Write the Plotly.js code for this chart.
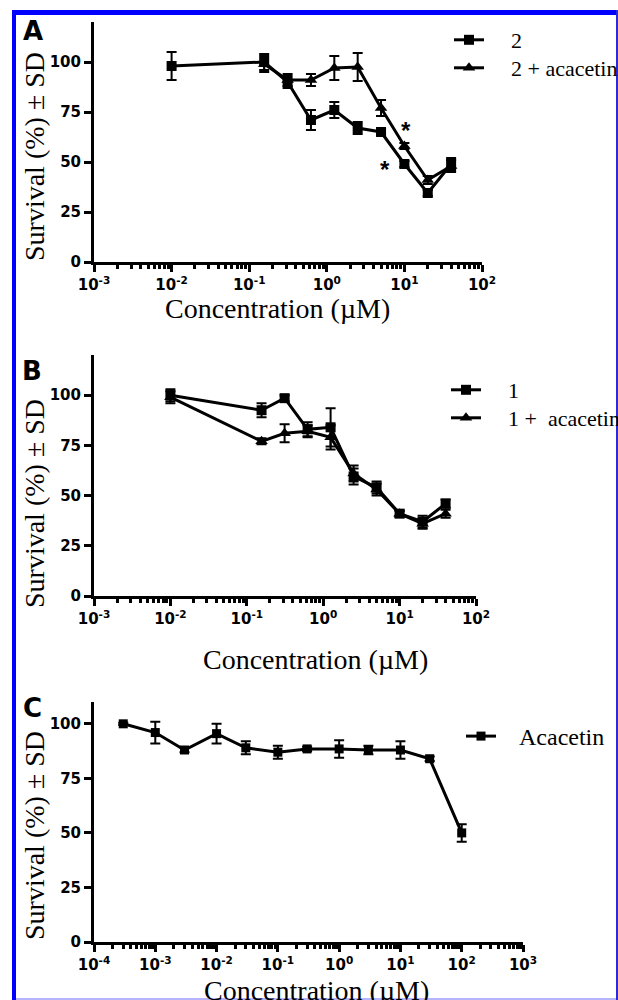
<!DOCTYPE html>
<html>
<head>
<meta charset="utf-8">
<script src="https://cdn.plot.ly/plotly-3.0.1.min.js"></script>
<style>
  html, body { margin: 0; padding: 0; background: #fff; }
  #chart { width: 618px; height: 1000px; }
</style>
</head>
<body>
<div id="chart"></div>
<script>
// ---------- Data ----------
// Panel A
const xA = [0.01, 0.156, 0.3125, 0.625, 1.25, 2.5, 5, 10, 20, 40];
const yA_2 = [98, 100, 90, 71, 76, 67, 65, 49, 34.5, 49];
const sdA_2 = [7, 4, 3, 5, 4, 3, 1.5, 1.5, 1.5, 3];
const xA_ac = [0.156, 0.3125, 0.625, 1.25, 2.5, 5, 10, 20, 40];
const yA_ac = [99, 91, 91, 97, 97.5, 77, 58, 41, 48];
const sdA_ac = [4, 3, 3, 6, 7, 4, 1.5, 2, 3];
const starX = [10.5, 5.7];
const starY = [67.5, 48];

// Panel B
const xB = [0.01, 0.156, 0.3125, 0.625, 1.25, 2.5, 5, 10, 20, 40];
const yB_1 = [100, 92.5, 98.5, 83, 84, 59.5, 54, 41, 37, 46];
const sdB_1 = [3, 3.5, 1.5, 3.5, 9.5, 4, 3, 1.5, 3, 2];
const yB_ac = [99, 77, 81, 82, 79, 61, 53, 41, 36, 41];
const sdB_ac = [3, 1.5, 4.5, 3, 6, 4, 3, 1.5, 2.5, 2];

// Panel C
const xC = [0.0003, 0.001, 0.003, 0.01, 0.03, 0.1, 0.3, 1, 3, 10, 30, 100];
const yC = [100, 96, 88, 95.5, 89, 87, 88.5, 88.5, 88, 88, 84, 50];
const sdC = [0.5, 5, 1, 4.5, 3, 3, 1, 4, 2, 4, 1, 4];

// Labels
const namesA = ['2', '2 + acacetin'];
const namesB = ['1', '1 +\u00a0\u00a0acacetin'];
const namesC = ['Acacetin'];
const yTickVals = [0, 25, 50, 75, 100];
const xTickValsAB = [0.001, 0.01, 0.1, 1, 10, 100];
const xTickTextAB = ['10<sup>-3</sup>', '10<sup>-2</sup>', '10<sup>-1</sup>', '10<sup>0</sup>', '10<sup>1</sup>', '10<sup>2</sup>'];
const xTickValsC = [0.0001, 0.001, 0.01, 0.1, 1, 10, 100, 1000];
const xTickTextC = ['10<sup>-4</sup>', '10<sup>-3</sup>', '10<sup>-2</sup>', '10<sup>-1</sup>', '10<sup>0</sup>', '10<sup>1</sup>', '10<sup>2</sup>', '10<sup>3</sup>'];
const xTitle = 'Concentration (\u00b5M)';
const yTitle = 'Survival (%) \u00b1 SD';
const panelLabels = ['A', 'B', 'C'];

// ---------- Styles ----------
const W = 618, H = 1000;
const px = v => v / W;
const py = v => 1 - v / H;
const pad = '\u00a0\u00a0\u00a0\u00a0';

function errY(arr) {
  return { type: 'data', array: arr, visible: true, color: '#000', thickness: 2, width: 5 };
}
const sq = { symbol: 'square', size: 10, color: '#000' };
const tri = { symbol: 'triangle-up', size: 11, color: '#000' };
const ln = { color: '#000', width: 3 };

const traces = [
  { x: xA, y: yA_2, error_y: errY(sdA_2), mode: 'lines+markers', marker: sq, line: ln,
    name: pad + namesA[0], xaxis: 'x', yaxis: 'y', legend: 'legend' },
  { x: xA_ac, y: yA_ac, error_y: errY(sdA_ac), mode: 'lines+markers', marker: tri, line: ln,
    name: pad + namesA[1], xaxis: 'x', yaxis: 'y', legend: 'legend2' },
  { x: xB, y: yB_1, error_y: errY(sdB_1), mode: 'lines+markers', marker: sq, line: ln,
    name: pad + namesB[0], xaxis: 'x2', yaxis: 'y2', legend: 'legend3' },
  { x: xB, y: yB_ac, error_y: errY(sdB_ac), mode: 'lines+markers', marker: tri, line: ln,
    name: pad + namesB[1], xaxis: 'x2', yaxis: 'y2', legend: 'legend4' },
  { x: xC, y: yC, error_y: errY(sdC), mode: 'lines+markers', marker: { symbol: 'square', size: 9, color: '#000' }, line: ln,
    name: '\u00a0\u00a0\u00a0' + namesC[0], xaxis: 'x3', yaxis: 'y3', legend: 'legend5' }
];

const tickFont = { family: 'DejaVu Sans', size: 15, color: '#000', weight: 'bold' };
function xAx(dom, rng, tv, tt, anchor) {
  return {
    type: 'log', domain: dom, range: rng, anchor: anchor,
    showline: true, linecolor: '#000', linewidth: 3,
    ticks: 'outside', ticklen: 7, tickwidth: 3, tickcolor: '#000',
    tickvals: tv, ticktext: tt, tickfont: tickFont,
    showgrid: false, zeroline: false, fixedrange: true,
    minor: { ticks: 'outside', ticklen: 4, tickwidth: 3, tickcolor: '#000', dtick: 'D1', showgrid: false }
  };
}
function yAx(dom, rng, anchor) {
  return {
    domain: dom, range: rng, anchor: anchor,
    showline: true, linecolor: '#000', linewidth: 3,
    ticks: 'outside', ticklen: 7, tickwidth: 3, tickcolor: '#000',
    tickvals: yTickVals, tickfont: tickFont,
    showgrid: false, zeroline: false, fixedrange: true
  };
}
function leg(x, y, size) {
  return {
    x: x, y: y, xref: 'paper', yref: 'paper', xanchor: 'left', yanchor: 'top',
    bgcolor: 'rgba(0,0,0,0)', borderwidth: 0, tracegroupgap: 0, itemwidth: 30,
    font: { family: 'Liberation Serif', size: size, color: '#000' }
  };
}

const titleFont = { family: 'Liberation Serif', size: 28, color: '#000' };
const labelFont = { family: 'DejaVu Sans', size: 26, color: '#000' };
const annotations = [];
const xTitlePos = [[277, 308], [315, 659], [316, 990]];
const yTitlePos = [[34, 157], [34, 504], [34, 836]];
const labelPos = [[33, 31], [32, 371], [32, 708]];
for (let i = 0; i < 3; i++) {
  annotations.push({ text: xTitle, xref: 'paper', yref: 'paper', x: px(xTitlePos[i][0]), y: py(xTitlePos[i][1]),
    xanchor: 'center', yanchor: 'middle', showarrow: false, font: titleFont });
  annotations.push({ text: yTitle, xref: 'paper', yref: 'paper', x: px(yTitlePos[i][0]), y: py(yTitlePos[i][1]),
    xanchor: 'center', yanchor: 'middle', textangle: -90, showarrow: false, font: titleFont });
  annotations.push({ text: '<b>' + panelLabels[i] + '</b>', xref: 'paper', yref: 'paper', x: px(labelPos[i][0]), y: py(labelPos[i][1]),
    xanchor: 'center', yanchor: 'middle', showarrow: false, font: labelFont });
}
for (let i = 0; i < starX.length; i++) {
  annotations.push({ text: '<b>*</b>', xref: 'x', yref: 'y', x: Math.log10(starX[i]), y: starY[i],
    xanchor: 'center', yanchor: 'middle', showarrow: false, yshift: -3,
    font: { family: 'Liberation Sans', size: 24, color: '#000' } });
}

const blue = '#0000ff';
const shapes = [
  { type: 'rect', xref: 'paper', yref: 'paper', x0: px(12), x1: 1, y0: py(15), y1: py(10), fillcolor: blue, line: { width: 0 }, layer: 'above' },
  { type: 'rect', xref: 'paper', yref: 'paper', x0: px(12), x1: px(16), y0: 0, y1: py(10), fillcolor: blue, line: { width: 0 }, layer: 'above' },
  { type: 'rect', xref: 'paper', yref: 'paper', x0: px(616), x1: 1, y0: 0, y1: py(10), fillcolor: '#2a2ad6', line: { width: 0 }, layer: 'above' },
  { type: 'rect', xref: 'paper', yref: 'paper', x0: px(16), x1: px(616), y0: 0, y1: py(998), fillcolor: '#b4b4ff', line: { width: 0 }, layer: 'above' }
];

const layout = {
  width: W, height: H,
  margin: { l: 0, r: 0, t: 0, b: 0, autoexpand: false },
  paper_bgcolor: '#fff', plot_bgcolor: 'rgba(0,0,0,0)',
  font: { family: 'Liberation Serif', color: '#000' },
  showlegend: true,
  xaxis: xAx([px(94), px(482)], [-3, 2], xTickValsAB, xTickTextAB, 'y'),
  yaxis: yAx([py(262), py(22)], [0, 120], 'x'),
  xaxis2: xAx([px(94), px(476)], [-3, 2], xTickValsAB, xTickTextAB, 'y2'),
  yaxis2: yAx([py(596), py(355)], [0, 120], 'x2'),
  xaxis3: xAx([px(94), px(523)], [-4, 3], xTickValsC, xTickTextC, 'y3'),
  yaxis3: yAx([py(942), py(702)], [0, 110], 'x3'),
  legend: leg(px(449), py(19), 22),
  legend2: leg(px(449), py(47), 22),
  legend3: leg(px(446), py(369), 22),
  legend4: leg(px(446), py(397), 22),
  legend5: leg(px(461), py(714), 24),
  annotations: annotations,
  shapes: shapes
};

Plotly.newPlot('chart', traces, layout, { staticPlot: true, displayModeBar: false });
</script>
</body>
</html>
